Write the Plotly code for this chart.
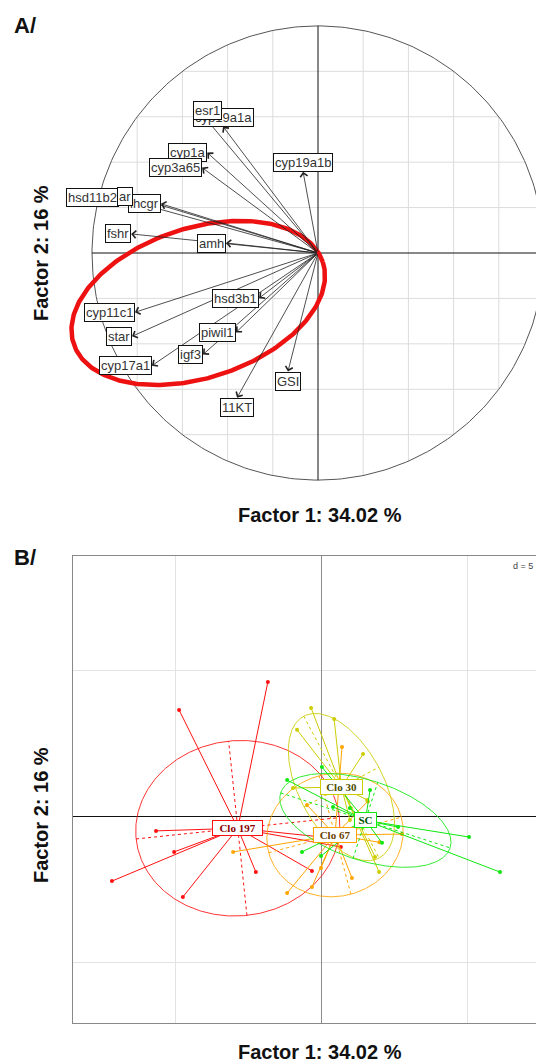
import numpy as np
import plotly.graph_objects as go

# ---- Panel A: variables on factor plane (correlation circle) ----
genes = ["cyp19a1a", "esr1", "cyp1a", "cyp3a65", "cyp19a1b", "hsd11b2", "lhcgr", "ar",
         "fshr", "amh", "hsd3b1", "cyp11c1", "star", "piwil1", "igf3", "cyp17a1", "GSI", "11KT"]
f1 = [-0.42, -0.49, -0.49, -0.513, -0.066, -0.881, -0.695, -0.819,
      -0.827, -0.407, -0.261, -0.81, -0.823, -0.363, -0.509, -0.735, -0.133, -0.358]
f2 = [0.557, 0.584, 0.442, 0.376, 0.358, 0.243, 0.217, 0.248,
      0.084, 0.044, -0.199, -0.261, -0.367, -0.35, -0.447, -0.496, -0.522, -0.637]

# red highlight ellipse around the steroidogenic genes
hl_center = (-0.53, -0.22)
hl_axes = (0.58, 0.33)
hl_angle = 18

# ---- Panel B: individuals by group ----
groups = ["Clo 197", "Clo 67", "Clo 30", "SC"]
clo197_x = [-4.86, -1.82, -5.65, -5.03, -7.16, -4.73, -2.23, -0.31, 0.68, 0.31]
clo197_y = [3.63, 4.59, -0.51, -1.23, -2.23, -2.77, -1.92, -1.88, -1.06, -0.75]
clo67_x = [0.72, -3.01, -1.16, 0.0, 1.06, -0.31, 2.77, -0.48, 2.0, 1.6]
clo67_y = [2.36, -1.23, -2.64, -1.78, -2.12, -2.43, -0.62, 0.38, -0.9, 0.5]
clo30_x = [-0.34, 0.45, -0.82, 1.44, -0.96, 1.58, 1.85, 1.99, 0.99]
clo30_y = [3.70, 3.32, 2.95, 2.12, 0.96, 0.55, -1.40, -1.92, -0.14]
sc_x = [-1.16, 0.03, -0.65, 0.0, 0.41, 0.99, 1.68, 2.09, 2.64, 5.07, 6.13]
sc_y = [1.23, 1.68, -1.23, -1.37, 0.31, 0.27, 0.89, -0.92, -0.38, -0.72, -1.92]

center_x = [-2.85, 0.48, 0.70, 1.52]
center_y = [-0.42, -0.65, 0.99, -0.15]
ell_a = [3.5, 2.35, 2.75, 3.05]
ell_b = [3.0, 2.1, 1.45, 1.37]
ell_angle = [6, 15, -62, -18]

colors = ["#ff1010", "#ffa500", "#cdcd00", "#10e810"]
text_colors = ["#8b0000", "#6b4300", "#4d4d00", "#005000"]
box_w = [49, 42, 41, 21]

FONT = "Liberation Sans, Arial, sans-serif"
A = dict(xaxis="x", yaxis="y", hoverinfo="skip", showlegend=False)
B = dict(xaxis="x2", yaxis="y2", hoverinfo="skip", showlegend=False)

# page body has an 8px margin: figure is placed at (8, 8) in the window
W, H, OFF = 536, 1055, 8


def pxx(x):
    return (x - OFF) / W


def pxy(y):
    return 1 - (y - OFF) / H


t = np.linspace(0, 2 * np.pi, 361)


def ellipse(cx, cy, a, b, ang):
    th = np.radians(ang)
    x = cx + a * np.cos(t) * np.cos(th) - b * np.sin(t) * np.sin(th)
    y = cy + a * np.cos(t) * np.sin(th) + b * np.sin(t) * np.cos(th)
    return x, y


fig = go.Figure()

# grid clipped to the unit circle
gx, gy = [], []
for v in np.round(np.arange(-0.8, 0.81, 0.2), 2):
    if v == 0:
        continue
    h = np.sqrt(1 - v * v)
    gx += [v, v, None, -h, h, None]
    gy += [-h, h, None, v, v, None]
fig.add_trace(go.Scatter(x=gx, y=gy, mode="lines", line=dict(color="#dcdcdc", width=1), **A))
fig.add_trace(go.Scatter(x=np.cos(t), y=np.sin(t), mode="lines", line=dict(color="#555", width=1), **A))
fig.add_trace(go.Scatter(x=[-1, 1, None, 0, 0], y=[0, 0, None, -1, 1], mode="lines",
                         line=dict(color="#111", width=1), **A))

ex, ey = ellipse(hl_center[0], hl_center[1], hl_axes[0], hl_axes[1], hl_angle)
fig.add_trace(go.Scatter(x=ex, y=ey, mode="lines", line=dict(color="#ee1111", width=4.5), **A))

annotations = []
for g, x, y in zip(genes, f1, f2):
    annotations.append(dict(xref="x", yref="y", axref="x", ayref="y", x=x, y=y, ax=0, ay=0,
                            text="", showarrow=True, arrowhead=4, arrowsize=1.8,
                            arrowwidth=0.8, arrowcolor="#222", standoff=0))
for g, x, y in zip(genes, f1, f2):
    if abs(y) > abs(x):
        xa, ya = "center", ("bottom" if y > 0 else "top")
    else:
        xa, ya = ("right" if x < 0 else "left"), "middle"
    annotations.append(dict(xref="x", yref="y", x=x, y=y, text=g, showarrow=False,
                            xanchor=xa, yanchor=ya, bgcolor="white", bordercolor="#111",
                            borderwidth=1, borderpad=1,
                            font=dict(family=FONT, size=13, color="#333")))

# ---- Panel B traces ----
pts = [(clo197_x, clo197_y), (clo67_x, clo67_y), (clo30_x, clo30_y), (sc_x, sc_y)]
for i, (px, py) in enumerate(pts):
    cx, cy, c = center_x[i], center_y[i], colors[i]
    ex, ey = ellipse(cx, cy, ell_a[i], ell_b[i], ell_angle[i])
    fig.add_trace(go.Scatter(x=ex, y=ey, mode="lines", line=dict(color=c, width=1), opacity=0.85, **B))
    th = np.radians(ell_angle[i])
    ax_x = [cx - ell_a[i] * np.cos(th), cx + ell_a[i] * np.cos(th), None,
            cx + ell_b[i] * np.sin(th), cx - ell_b[i] * np.sin(th)]
    ax_y = [cy - ell_a[i] * np.sin(th), cy + ell_a[i] * np.sin(th), None,
            cy - ell_b[i] * np.cos(th), cy + ell_b[i] * np.cos(th)]
    fig.add_trace(go.Scatter(x=ax_x, y=ax_y, mode="lines",
                             line=dict(color=c, width=1, dash="3px,3px"), **B))
    sx, sy = [], []
    for x, y in zip(px, py):
        sx += [cx, x, None]
        sy += [cy, y, None]
    fig.add_trace(go.Scatter(x=sx, y=sy, mode="lines", line=dict(color=c, width=1), **B))
    fig.add_trace(go.Scatter(x=px, y=py, mode="markers", marker=dict(color=c, size=4), **B))

for i, g in enumerate(groups):
    annotations.append(dict(xref="x2", yref="y2", x=center_x[i], y=center_y[i], text=f"<b>{g}</b>",
                            showarrow=False, bgcolor="white", bordercolor=colors[i], borderwidth=1,
                            width=box_w[i], height=14, borderpad=0,
                            font=dict(family="Liberation Serif, serif", size=11, color=text_colors[i])))

# panel labels and axis titles
for txt, x, y, ang in [("A/", 25, 26, 0), ("B/", 25, 557, 0),
                       ("Factor 1: 34.02 %", 320, 515, 0), ("Factor 1: 34.02 %", 320, 1052, 0),
                       ("Factor 2: 16 %", 41, 253, -90), ("Factor 2: 16 %", 41, 815, -90)]:
    annotations.append(dict(xref="paper", yref="paper", x=pxx(x), y=pxy(y), text=f"<b>{txt}</b>",
                            showarrow=False, textangle=ang, xanchor="center", yanchor="middle",
                            font=dict(family=FONT, size=22 if txt.endswith("/") else 20, color="#111")))
annotations.append(dict(xref="paper", yref="paper", x=pxx(535), y=pxy(566), text="d = 5",
                        showarrow=False, xanchor="right", yanchor="middle",
                        font=dict(family=FONT, size=9, color="#444")))

fig.update_layout(
    width=W, height=H,
    margin=dict(l=0, r=0, t=0, b=0),
    paper_bgcolor="white", plot_bgcolor="white",
    showlegend=False,
    annotations=annotations,
    # x domain starts left of the circle so the highlight ellipse is not clipped
    xaxis=dict(domain=[pxx(60), 1.0], range=[(60 - 318) / 226, 1.0], visible=False),
    yaxis=dict(domain=[pxy(486), pxy(20)], range=[-1.026, 1.026], visible=False),
    xaxis2=dict(domain=[pxx(73), pxx(540)], range=[-8.493, 7.5], anchor="y2",
                dtick=5, tick0=0, showticklabels=False, ticks="",
                showgrid=True, gridcolor="#e3e3e3", zeroline=True, zerolinecolor="#8c8c8c",
                zerolinewidth=1, showline=True, mirror=True, linecolor="#888", linewidth=1.2),
    yaxis2=dict(domain=[pxy(1023), pxy(556)], range=[-7.089, 8.904], anchor="x2",
                dtick=5, tick0=0, showticklabels=False, ticks="",
                showgrid=True, gridcolor="#e3e3e3", zeroline=True, zerolinecolor="#111",
                zerolinewidth=1.2, showline=True, mirror=True, linecolor="#888", linewidth=1.2),
)

fig.write_html("out.html")
